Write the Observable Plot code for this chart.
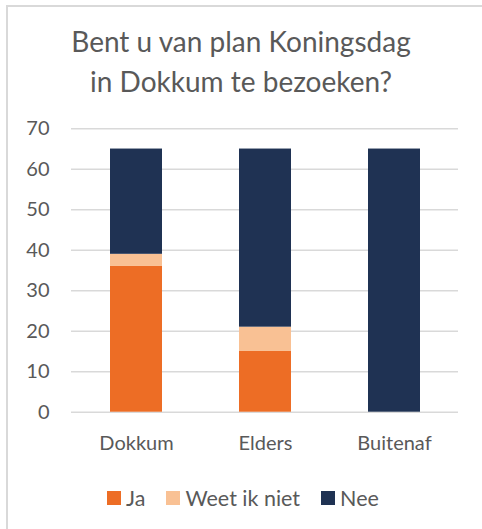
<!DOCTYPE html>
<html>
<head>
<meta charset="utf-8">
<script src="https://cdn.jsdelivr.net/npm/d3@7"></script>
<script src="https://cdn.jsdelivr.net/npm/@observablehq/plot@0.6"></script>
<style>
  html, body { margin: 0; padding: 0; background: #fff; }
  body { width: 482px; height: 529px; position: relative; overflow: hidden; font-family: Lato, "Open Sans", sans-serif; }
  #frame { position: absolute; left: 6px; top: 5px; width: 490px; height: 540px; border-left: 2px solid #d9d9d9; border-top: 2px solid #d9d9d9; box-sizing: border-box; }
  #title { position: absolute; left: 0; width: 482px; top: 21px; text-align: center; color: #595959; font-size: 28px; line-height: 40px; }
  #chart { position: absolute; left: 0; top: 115px; }
  #legend { position: absolute; left: 2px; width: 482px; top: 481px; display: flex; justify-content: center; }
  #legend > * { margin: 0 !important; }
  #legend span { margin-right: 21px !important; }
  #legend span:last-child { margin-right: 0 !important; }
  #legend span > svg { margin-right: 5px !important; }
</style>
</head>
<body>
<div id="frame"></div>
<div id="title">Bent u van plan Koningsdag<br>in Dokkum te bezoeken?</div>
<div id="chart"></div>
<div id="legend"></div>
<script>
const categories = ["Dokkum", "Elders", "Buitenaf"];
const series = ["Ja", "Weet ik niet", "Nee"];
const jaValues = [36, 15, 0];
const weetValues = [3, 6, 0];
const neeValues = [26, 44, 65];
const yTicks = [0, 10, 20, 30, 40, 50, 60, 70];
const colors = ["#ED6D25", "#F9C194", "#1F3253"];

const seriesValues = [jaValues, weetValues, neeValues];
const data = [];
series.forEach((s, i) => categories.forEach((c, j) => data.push({category: c, answer: s, value: seriesValues[i][j]})));

const font = "Lato, 'Open Sans', sans-serif";
const plot = Plot.plot({
  width: 482,
  height: 345,
  marginTop: 13.3,
  marginBottom: 48.3,
  marginLeft: 71,
  marginRight: 24,
  style: {fontFamily: font, fontSize: "20px", color: "#595959", background: "transparent"},
  x: {domain: categories, paddingInner: 0.6, paddingOuter: 0.3, label: null},
  y: {domain: [0, 70], ticks: yTicks, label: null},
  color: {domain: series, range: colors},
  marks: [
    Plot.ruleY(yTicks, {stroke: "#d9d9d9", strokeWidth: 1.5}),
    Plot.barY(data, {x: "category", y: "value", fill: "answer", order: series}),
    Plot.axisY({ticks: yTicks, tickSize: 0, tickPadding: 22, label: null}),
    Plot.axisX({tickSize: 0, tickPadding: 24, label: null})
  ]
});
document.getElementById("chart").appendChild(plot);

const legend = Plot.legend({
  color: {type: "ordinal", domain: series, range: colors},
  swatchSize: 14,
  style: {fontFamily: font, fontSize: "21.5px", color: "#595959"}
});
document.getElementById("legend").appendChild(legend);
</script>
</body>
</html>
